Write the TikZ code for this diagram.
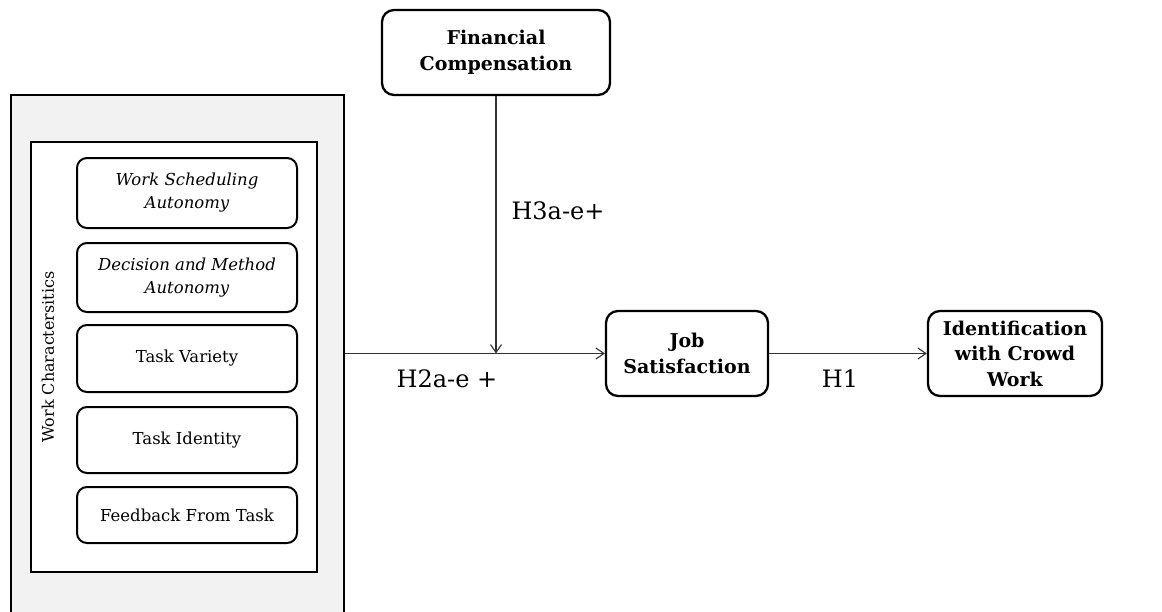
\documentclass[tikz,border=0pt]{standalone}
\usepackage{fontspec}
\setmainfont{DejaVu Serif}
\usetikzlibrary{arrows.meta}
\tikzset{
  wcbox/.style={draw, line width=2pt, rounded corners=10pt, minimum width=220pt, align=center, font=\fontsize{16.5}{23}\selectfont, inner sep=2pt},
  mainbox/.style={draw, line width=2.3pt, rounded corners=12pt, align=center, font=\bfseries\fontsize{19}{25.5}\selectfont, inner sep=2pt},
  conn/.style={line width=1.1pt, draw=black!80, -{Straight Barb[length=8pt,width=11pt,line width=1.1pt]}},
  hlabel/.style={font=\fontsize{24}{28}\selectfont, inner sep=0pt}
}
\begin{document}
\begin{tikzpicture}[x=1pt,y=-1pt]
\useasboundingbox (0,0) rectangle (1162,611);
\begin{scope}
\clip (0,0) rectangle (1162,611);
\node[draw, line width=2pt, fill=black!5, minimum width=333pt, minimum height=560pt, anchor=north west, inner sep=0pt] (outer) at (10,94) {};
\end{scope}
\node[draw, line width=2.2pt, fill=white, minimum width=286pt, minimum height=430pt, inner sep=0pt] (inner) at (174,357) {};
\node[wcbox, minimum height=70pt] (b1) at (187,193) {\itshape Work Scheduling\\ \itshape Autonomy};
\node[wcbox, minimum height=69pt] (b2) at (187,277.5) {\itshape Decision and Method\\ \itshape Autonomy};
\node[wcbox, minimum height=67pt] (b3) at (187,358.5) {Task Variety};
\node[wcbox, minimum height=66pt] (b4) at (187,440) {Task Identity};
\node[wcbox, minimum height=56pt] (b5) at (187,515) {Feedback From Task};
\node[rotate=90, font=\fontsize{16}{19}\selectfont, inner sep=0pt] (wclab) at (48,357) {Work Charactersitics};
\node[mainbox, minimum width=228pt, minimum height=85pt] (fc) at (496,52.5) {Financial\\Compensation};
\node[mainbox, minimum width=162pt, minimum height=85pt] (js) at (687,353.5) {Job\\Satisfaction};
\node[mainbox, minimum width=174pt, minimum height=85pt] (iw) at (1015,353.5) {Identification\\with Crowd\\Work};
\coordinate (start) at (outer.east |- js.west);
\draw[conn] (start) -- (js.west);
\draw[conn] (fc.south) -- (fc.south |- js.west);
\draw[conn] (js.east) -- (iw.west);
\node[hlabel] (h3) at (558,211) {H3a-e+};
\node[hlabel] (h2) at (447,379) {H2a-e +};
\node[hlabel] (h1) at (840,379) {H1};
\end{tikzpicture}
\end{document}
